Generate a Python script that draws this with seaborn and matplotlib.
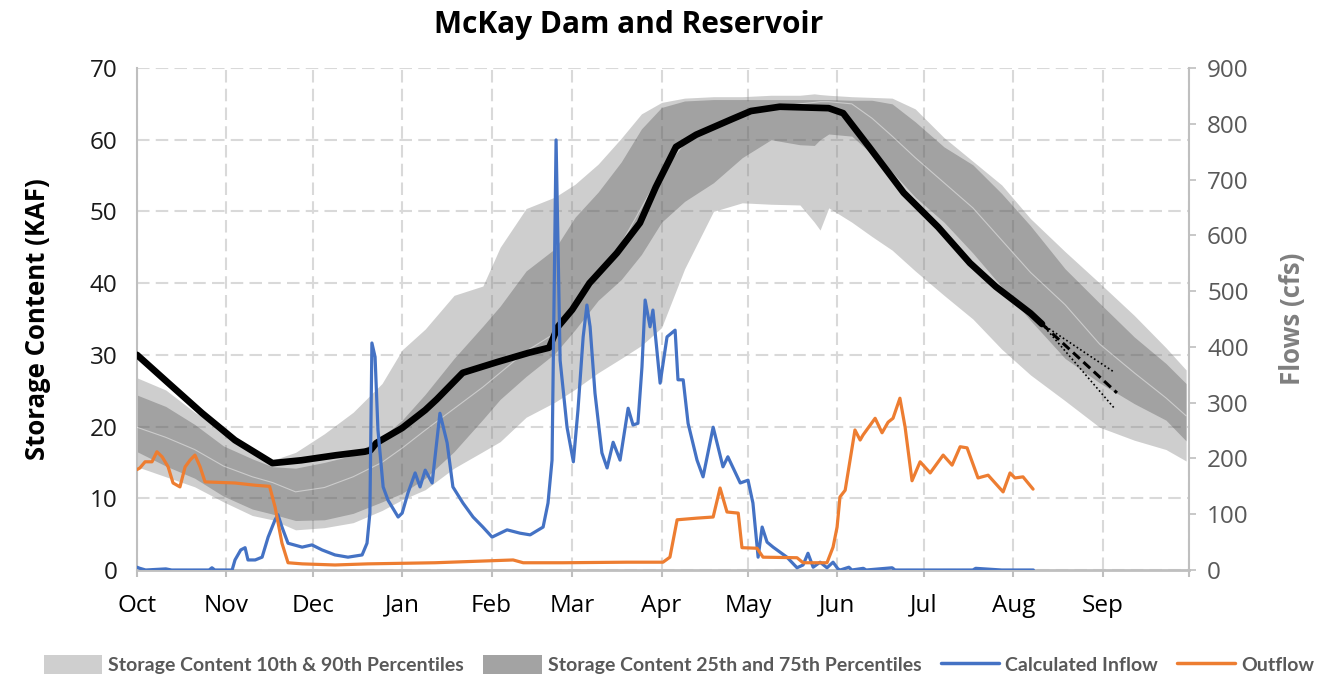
import matplotlib
matplotlib.use("Agg")
import matplotlib.pyplot as plt
import seaborn as sns
from matplotlib.patches import Patch
from matplotlib.lines import Line2D

# ---- Axis categories (day 0 = Oct 1, start of the water year) ----
month_starts = [0, 31, 61, 92, 123, 151, 182, 212, 243, 273, 304, 335, 365]
month_labels = ["Oct", "Nov", "Dec", "Jan", "Feb", "Mar", "Apr", "May",
                "Jun", "Jul", "Aug", "Sep", ""]
storage_ticks = [0, 10, 20, 30, 40, 50, 60, 70]
flow_ticks = [0, 100, 200, 300, 400, 500, 600, 700, 800, 900]

# ---- Historical storage percentiles (KAF) ----
band_days = [0, 10, 20, 30, 40, 47, 55, 65, 75, 85, 92, 100, 110, 120, 126,
             135, 145, 152, 160, 168, 175, 182, 190, 200, 210, 220, 230, 235,
             237, 240, 248, 255, 262, 270, 280, 290, 300, 310, 322, 334, 346,
             357, 364]
p90 = [26.8, 25.1, 22.0, 19.5, 17.0, 15.3, 16.4, 19.0, 22.0, 26.0, 30.7, 33.6,
       38.3, 39.6, 45.0, 50.4, 52.0, 53.8, 56.6, 60.2, 63.6, 65.2, 65.8, 66.0,
       66.0, 66.2, 66.2, 66.4, 66.3, 66.2, 66.0, 65.9, 65.8, 64.3, 60.3, 57.0,
       53.7, 49.0, 44.4, 40.0, 35.5, 31.0, 27.9]
p75 = [24.4, 22.8, 20.3, 17.3, 15.5, 14.4, 14.2, 15.0, 16.0, 18.5, 20.9, 24.5,
       29.5, 34.0, 36.8, 41.7, 44.8, 49.2, 52.7, 56.9, 61.5, 64.5, 65.4, 65.6,
       65.6, 65.6, 65.6, 65.6, 65.6, 65.6, 65.5, 65.5, 65.0, 62.5, 59.0, 56.5,
       52.5, 48.0, 42.0, 37.2, 32.5, 28.8, 26.0]
p50 = [19.9, 18.5, 16.8, 14.5, 13.0, 12.2, 10.9, 11.5, 13.0, 15.0, 17.0, 19.5,
       22.5, 25.5, 27.5, 30.5, 33.0, 36.5, 41.0, 45.5, 50.5, 55.5, 59.5, 62.0,
       63.5, 64.5, 65.0, 65.2, 65.3, 65.3, 65.0, 63.0, 60.5, 57.5, 54.0, 50.5,
       46.0, 41.5, 37.0, 31.5, 27.5, 24.0, 21.5]
p25 = [16.5, 14.5, 12.8, 10.3, 8.5, 7.8, 6.9, 7.0, 7.9, 9.5, 10.7, 12.8,
       16.5, 21.0, 23.8, 27.0, 30.2, 33.5, 37.6, 40.5, 44.0, 48.5, 51.4, 54.0,
       57.5, 60.0, 59.3, 59.2, 60.0, 60.8, 60.5, 58.0, 55.5, 52.0, 48.5, 44.2,
       39.5, 34.8, 29.5, 26.1, 23.2, 20.9, 18.0]
p10 = [14.4, 13.0, 11.6, 9.5, 7.6, 7.0, 5.6, 5.9, 6.6, 8.3, 9.8, 11.2,
       14.2, 16.5, 17.9, 21.3, 23.4, 25.2, 27.5, 29.5, 31.3, 33.8, 42.0, 50.0,
       51.2, 51.0, 50.9, 48.5, 47.4, 50.5, 48.5, 46.5, 44.6, 41.7, 38.3, 35.0,
       30.8, 27.2, 23.6, 19.9, 18.1, 16.8, 15.2]

# ---- Current water year storage (KAF) ----
storage_days = [0, 10.8, 22.5, 34, 47, 57, 69, 79, 81, 83, 92, 100, 104, 113,
                125, 136, 143, 146, 151, 157, 166.5, 174.5, 180, 187, 194, 206,
                213, 223, 240, 245, 254, 266, 278, 289, 298, 310, 314]
storage_kaf = [30.0, 26.1, 21.9, 18.1, 14.9, 15.3, 16.0, 16.5, 16.7, 17.7,
               19.8, 22.3, 23.8, 27.5, 29.0, 30.3, 31.0, 33.9, 36.3, 40.0,
               44.2, 48.4, 53.4, 59.0, 60.7, 62.8, 64.0, 64.6, 64.4, 63.7,
               59.0, 52.6, 47.8, 42.8, 39.5, 35.8, 34.3]

# ---- Forecast of storage to early September ----
forecast_days = [314, 340]
forecast_kaf = [34.3, 24.7]
forecast_range_days = [314, 339]
forecast_high = [34.3, 27.6]
forecast_low = [34.3, 22.6]

# ---- Daily flows (cfs) ----
inflow_days = [0, 1, 3, 10, 12, 25, 26, 27, 33, 34, 36, 37.5, 38.5, 41, 43.4,
               45.5, 47.9, 48.9, 50.3, 52.4, 57.3, 60.7, 64.2, 68.7, 73.2,
               78.1, 79.8, 80.8, 81.5, 82.6, 83.6, 85.4, 87.1, 90.6, 92, 94,
               96.5, 98.2, 100, 102.4, 105.1, 107.6, 109.6, 113.1, 116.6, 120,
               123.2, 128.4, 132.9, 136.4, 140.9, 142.6, 144, 145.4, 146.8,
               149.2, 151.4, 153, 154.8, 156.1, 157.2, 158.9, 161.3, 163.1,
               165.2, 167.6, 170.4, 172.1, 173.8, 175.2, 176.3, 178, 179,
               181.5, 183.9, 186.7, 187.7, 189.5, 191.2, 194.3, 196.4, 199.9,
               203.3, 205, 209.3, 212, 213.7, 215.5, 216.9, 218.6, 220.7,
               223.1, 225.5, 229, 231.1, 232.8, 234.6, 237, 239.4, 241.5,
               243.2, 244, 247, 248, 252, 253, 262, 263, 290, 291, 300, 311]
inflow_cfs = [5, 3, 0, 2, 0, 0, 4, 0, 0, 18, 36, 40, 18, 18, 23,
              59, 90, 99, 77, 48, 41, 45, 36, 27, 23,
              27, 48, 102, 407, 382, 251, 149, 125, 95, 102, 138,
              174, 149, 179, 156, 281, 228, 149, 120, 95, 77,
              59, 72, 66, 63, 77, 120, 197, 771, 376,
              256, 194, 287, 418, 475, 436, 317, 210, 183,
              229, 197, 290, 260, 263, 364, 484, 436, 466,
              335, 418, 430, 341, 341, 263, 197, 167, 256,
              185, 203, 156, 161, 120, 23, 77, 50, 41,
              32, 23, 4, 9, 30, 5, 14, 4, 14,
              2, 0, 5, 0, 3, 0, 4, 0, 0, 3, 0, 0]

outflow_days = [0, 1, 2.8, 5.2, 6.9, 8.7, 10.8, 12.5, 14.9, 16.7, 18.4, 20.1,
                21.9, 23.6, 34, 40.9, 46, 47.9, 50.3, 52.4, 57.3, 68.7, 80.1,
                103.4, 130.5, 134, 147.8, 170, 182.5, 184.9, 187.4, 194.3,
                199.9, 202.3, 204.7, 208.6, 209.9, 215.1, 217.2, 229, 231.1,
                239.4, 241.5, 242.9, 243.9, 245.7, 249.1, 250.9, 251.9, 256.1,
                258.5, 260.6, 262.3, 264.7, 266.5, 268.9, 271.7, 275.2, 279.7,
                282.8, 285.6, 288, 291.8, 295.3, 300.5, 302.9, 304.6, 307.4,
                310.9]
outflow_cfs = [180, 183, 194, 194, 212, 203, 185, 156, 149, 185, 197, 206,
               185, 158, 156, 152, 150, 113, 48, 13, 11, 9, 11,
               13, 18, 13, 13, 14, 14, 23, 90, 93,
               95, 147, 104, 102, 40, 39, 23, 22, 13,
               13, 41, 77, 131, 143, 251, 233, 242, 272,
               246, 265, 272, 308, 256, 160, 194, 174, 206,
               188, 221, 219, 165, 170, 140, 174, 165, 167,
               145]

# ---- Styling ----
sns.set_theme(style="white")
plt.rcParams["font.family"] = ["Open Sans", "DejaVu Sans"]

GRID = "#d9d9d9"
SPINE = "#bfbfbf"
BLUE = "#4472C4"
ORANGE = "#ED7D31"
LIGHT_BAND = "#cfcfcf"
DARK_BAND = "#a3a3a3"

fig = plt.figure(figsize=(13.37, 6.78), dpi=100)
ax = fig.add_axes([0.10247, 0.15929, 0.78684, 0.74041])
ax2 = ax.twinx()

# percentile bands
ax.fill_between(band_days, p10, p90, color="#808080", alpha=0.38, lw=0, zorder=1)
ax.fill_between(band_days, p25, p75, color="#404040", alpha=0.31, lw=0, zorder=2)
sns.lineplot(x=band_days, y=p50, ax=ax, color="white", alpha=0.45,
             linewidth=0.8, zorder=3)

# storage this year and its forecast
sns.lineplot(x=storage_days, y=storage_kaf, ax=ax, color="black",
             linewidth=4.8, zorder=4)
sns.lineplot(x=forecast_days, y=forecast_kaf, ax=ax, color="black",
             linewidth=2.2, linestyle=(0, (3, 1.6)), zorder=4)
sns.lineplot(x=forecast_range_days, y=forecast_high, ax=ax, color="black",
             linewidth=1.2, linestyle=(0, (1, 1.5)), zorder=4)
sns.lineplot(x=forecast_range_days, y=forecast_low, ax=ax, color="black",
             linewidth=1.2, linestyle=(0, (1, 1.5)), zorder=4)

# flows on the secondary axis
sns.lineplot(x=inflow_days, y=inflow_cfs, ax=ax2, color=BLUE, linewidth=2.3)
sns.lineplot(x=outflow_days, y=outflow_cfs, ax=ax2, color=ORANGE, linewidth=2.3)

# axes ranges and ticks
ax.set_xlim(0, 365)
ax.set_ylim(0, 70)
ax2.set_ylim(0, 900)
ax.set_xticks(month_starts)
ax.set_xticklabels(month_labels)
ax.set_yticks(storage_ticks)
ax2.set_yticks(flow_ticks)

ax.set_axisbelow(True)
ax.grid(True, color=GRID, linestyle=(0, (6, 3)), linewidth=1.5)
ax2.grid(False)

ax.tick_params(axis="x", which="major", length=5, width=1.5, color=SPINE,
               direction="out", pad=12, labelsize=17.5, labelcolor="black",
               bottom=True)
ax.tick_params(axis="y", length=0, pad=14, labelsize=17.5, labelcolor="#1a1a1a")
ax2.tick_params(axis="y", length=5, width=1.2, color=SPINE, direction="out",
                pad=8, labelsize=17.5, labelcolor="#595959", right=True)

for name in ["top", "right"]:
    ax.spines[name].set_visible(False)
for name in ["top", "left", "bottom"]:
    ax2.spines[name].set_visible(False)
ax.spines["left"].set_color(SPINE)
ax.spines["left"].set_linewidth(1.5)
ax.spines["bottom"].set_color(SPINE)
ax.spines["bottom"].set_linewidth(2.0)
ax2.spines["right"].set_color(SPINE)
ax2.spines["right"].set_linewidth(1.5)

ax.set_xlabel("")
ax.set_ylabel("Storage Content (KAF)", fontsize=18.5, fontweight="bold",
              color="black", labelpad=28)
ax2.set_ylabel("Flows (cfs)", fontsize=18.5, fontweight="bold",
               color="#7f7f7f", labelpad=22)

fig.suptitle("McKay Dam and Reservoir", x=0.47, y=0.985, fontsize=21.5,
             fontweight="bold", color="black")

handles = [
    Patch(facecolor=LIGHT_BAND, edgecolor="none"),
    Patch(facecolor=DARK_BAND, edgecolor="none"),
    Line2D([0], [0], color=BLUE, linewidth=2.5),
    Line2D([0], [0], color=ORANGE, linewidth=2.5),
]
labels = ["Storage Content 10th & 90th Percentiles",
          "Storage Content 25th and 75th Percentiles",
          "Calculated Inflow", "Outflow"]
leg = fig.legend(handles, labels, loc="center", bbox_to_anchor=(0.508, 0.02),
                 ncol=4, frameon=False, handlelength=3.0, handleheight=1.1,
                 handletextpad=0.3, columnspacing=1.0,
                 prop={"family": ["Lato", "DejaVu Sans"],
                       "weight": "bold", "size": 14.0})
for t in leg.get_texts():
    t.set_color("#595959")

fig.savefig("out.png", dpi=100)
